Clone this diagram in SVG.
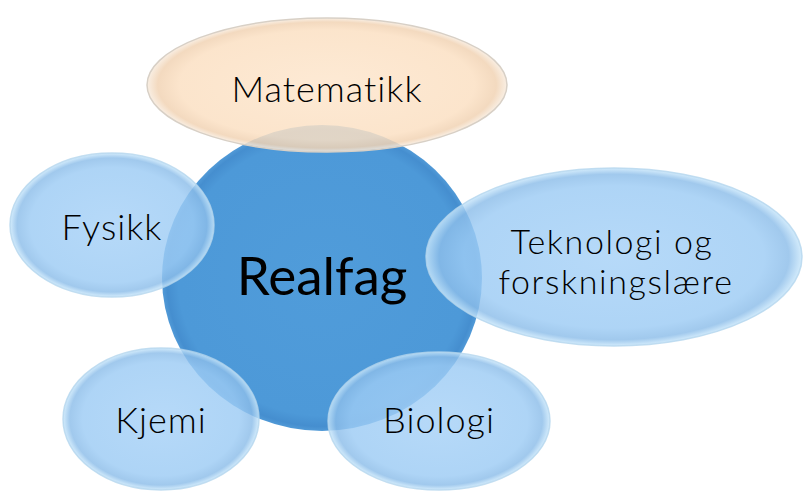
<svg xmlns="http://www.w3.org/2000/svg" width="804" height="492" viewBox="0 0 804 492">
  <defs>
    <radialGradient id="gBlue" cx="50%" cy="50%" r="50%">
      <stop offset="0%" stop-color="#a6d1f7"/>
      <stop offset="80%" stop-color="#9ccbf4"/>
      <stop offset="93%" stop-color="#8cbde9"/>
      <stop offset="100%" stop-color="#c9e7fb"/>
    </radialGradient>
    <radialGradient id="gPeach" cx="50%" cy="50%" r="50%">
      <stop offset="0%" stop-color="#fde6cd"/>
      <stop offset="82%" stop-color="#fbe0c3"/>
      <stop offset="94%" stop-color="#f1d3b4"/>
      <stop offset="100%" stop-color="#f8ecdf"/>
    </radialGradient>
    <radialGradient id="gCenter" cx="50%" cy="50%" r="50%">
      <stop offset="0%" stop-color="#509cda"/>
      <stop offset="90%" stop-color="#4d99d8"/>
      <stop offset="97%" stop-color="#458ecf"/>
      <stop offset="100%" stop-color="#519ad7"/>
    </radialGradient>
  </defs>
  <style>
    .sat { fill: url(#gBlue); fill-opacity: 0.82; stroke: #b4d6ee; stroke-width: 1.5; stroke-opacity: 0.8; }
    .math { fill: url(#gPeach); fill-opacity: 0.85; stroke: #d8d0c6; stroke-width: 1.5; }
    .center { fill: url(#gCenter); }
    text { font-family: Lato, "Liberation Sans", sans-serif; fill: #000; text-anchor: middle; }
    .lbl { font-size: 36px; font-weight: 300; letter-spacing: 1px; }
    .two { font-size: 34px; letter-spacing: 1.6px; }
    .big { font-size: 53px; }
  </style>
  <g id="realfag">
    <ellipse class="center" cx="322" cy="278" rx="160" ry="153"/>
  </g>
  <g id="matematikk">
    <ellipse class="math" cx="327" cy="85" rx="180" ry="67"/>
    <text class="lbl" x="327" y="102">Matematikk</text>
  </g>
  <g id="fysikk">
    <ellipse class="sat" cx="112" cy="225" rx="102" ry="72"/>
    <text class="lbl" x="112" y="240">Fysikk</text>
  </g>
  <g id="teknologi">
    <ellipse class="sat" cx="614" cy="257" rx="188" ry="89"/>
    <text class="lbl two" x="612" y="254">Teknologi og</text>
    <text class="lbl two" x="616" y="294">forskningslære</text>
  </g>
  <g id="kjemi">
    <ellipse class="sat" cx="161" cy="419" rx="98" ry="71"/>
    <text class="lbl" x="161" y="433">Kjemi</text>
  </g>
  <g id="biologi">
    <ellipse class="sat" cx="439" cy="421" rx="111" ry="69"/>
    <text class="lbl" x="439" y="433">Biologi</text>
  </g>
  <g id="realfag-label">
    <text class="big" x="322" y="295">Realfag</text>
  </g>
  <g id="connectors"/>
</svg>
